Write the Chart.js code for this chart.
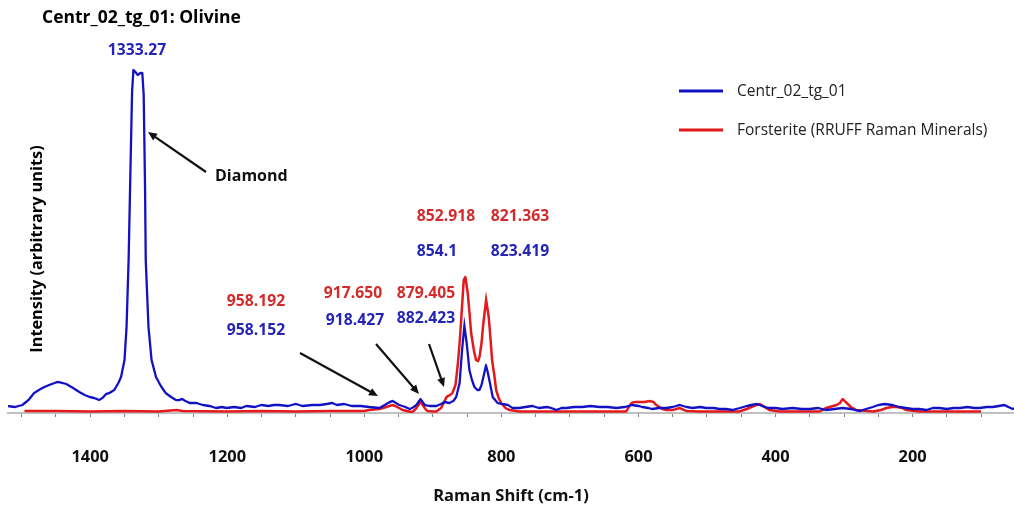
<!DOCTYPE html>
<html>
<head>
<meta charset="utf-8">
<title>Centr_02_tg_01: Olivine</title>
<script src="https://cdn.jsdelivr.net/npm/chart.js@4.4.1/dist/chart.umd.min.js"></script>
<style>
  html, body { margin: 0; padding: 0; background: #fff; }
  #wrap { width: 1014px; height: 510px; position: relative; }
</style>
</head>
<body>
<div id="wrap"><canvas id="spectrum"></canvas></div>
<script>
// Raman shift (cm-1) and intensity (arbitrary units)
const blueShift = [1521, 1510, 1499, 1490, 1482, 1470, 1460, 1448, 1440, 1435, 1425, 1416, 1408, 1401, 1394, 1387, 1382, 1377, 1372, 1365, 1359, 1355, 1350, 1347, 1344, 1342, 1339, 1337, 1334, 1331, 1327, 1324, 1322, 1320, 1319, 1315, 1310.5, 1304, 1297, 1290, 1282, 1275, 1270, 1266, 1261, 1255, 1245, 1236, 1226, 1216, 1208, 1201, 1190, 1180, 1172, 1160, 1150, 1140, 1132, 1124, 1112, 1100, 1090, 1076, 1065, 1055, 1047, 1040, 1030, 1018, 1005, 993, 978, 968, 959, 949, 940, 934, 928, 924, 918, 912, 904, 895, 888, 883, 876, 870, 866, 861, 857.4, 854, 850.7, 846.7, 843, 839.4, 835, 832, 829, 826.3, 822.3, 818.5, 815, 812.7, 808, 805.4, 798.5, 790, 784, 774, 765, 755, 745, 734, 727, 720, 712, 705, 694, 682, 670, 657, 645, 632, 620, 609, 600, 594, 586, 580, 570, 559, 550, 540, 530, 521, 510, 501, 490, 482, 472, 463, 452, 442, 435, 428, 423, 416, 409, 400, 390, 375, 362, 350, 338, 326, 314, 302, 290, 277, 268, 258, 250, 241, 230, 219, 210, 200, 190, 180, 170, 161, 150, 140, 131, 120, 110, 102, 92, 83, 74, 66, 60, 54, 50];
const blueIntensity = [7, 6, 8, 13, 20, 25, 28, 31, 30, 29, 25, 21, 18, 16, 15, 13, 15, 19, 20, 23, 30, 36, 53, 86, 153, 220, 320, 343, 341, 338, 340, 340, 318, 225, 153, 86, 53, 36, 27, 20, 16, 13, 13, 14, 12, 10, 10, 8, 7, 5, 6, 5, 6, 5, 7, 6, 8, 7, 8, 8, 7, 9, 7, 8, 8, 9, 10, 8, 9, 7, 7, 6, 5, 9, 12, 8, 6, 4, 6, 8, 14, 8, 7, 7, 9, 11, 10, 12, 16, 30, 63, 87, 70, 43, 33, 26, 23, 23, 28, 36, 48, 36, 24, 16, 12, 10, 9, 8, 5, 5, 6, 7, 5, 6, 5, 3, 5, 5, 6, 6, 7, 6, 6, 5, 6, 8, 7, 6, 5, 4, 5, 5, 6, 8, 6, 5, 6, 5, 5, 4, 4, 3, 5, 7, 8, 9, 8, 6, 5, 5, 4, 5, 4, 4, 5, 3, 4, 5, 4, 2, 4, 6, 8, 9, 8, 6, 5, 4, 4, 3, 5, 5, 4, 5, 5, 6, 5, 5, 6, 6, 7, 8, 6, 4, 5];

const redShift = [1496, 1450, 1400, 1350, 1300, 1274, 1265, 1200, 1150, 1100, 1050, 1000, 993, 978, 968, 959, 952, 944, 938, 930, 925, 918, 912, 908, 900, 895, 888, 880, 875, 871.5, 867, 864, 861, 858.4, 855, 852.6, 849.2, 846.5, 844.2, 840, 837, 834, 832, 829, 826.3, 822.3, 818.5, 816, 813.6, 810, 807.7, 804, 800.4, 794, 788, 774, 740, 700, 660, 618, 614, 610, 604, 598, 591, 584, 578, 574, 565, 559, 550, 540, 530, 511, 453, 442, 432, 428, 423, 416, 409, 394, 336, 326, 316, 311, 306, 302, 296, 290, 282, 258, 246, 238, 230, 223, 215, 209, 190, 150, 100];
const redIntensity = [2, 2, 1.5, 2, 1.5, 3, 2, 1.5, 2, 1.5, 2, 2, 3, 4, 6, 8, 6, 3, 2, 1, 4, 11, 5, 2, 1.5, 1.5, 5, 16, 18, 20, 28, 46, 70, 96, 133, 136, 120, 100, 80, 62, 53, 52, 56, 70, 90, 113, 96, 75, 53, 36, 23, 15, 10, 5, 3, 1.5, 1.5, 1.5, 1.5, 1.5, 6, 10, 11, 11, 11, 12, 11, 8, 4, 3, 3, 5, 2, 1.5, 1.5, 4, 7, 8, 9, 6, 3, 1.5, 1.5, 5, 7, 8, 10, 14, 10, 6, 3, 1.5, 3, 5, 6, 6, 5, 3, 1.5, 1.5, 1.5];

const xTicksLabelled = [1400, 1200, 1000, 800, 600, 400, 200];

const blueLabels = ['1333.27', '958.152', '918.427', '882.423', '854.1', '823.419'];
const redLabels = ['958.192', '917.650', '879.405', '852.918', '821.363'];

const BLUE = '#1212c4';
const RED = '#e3191c';
const FONT = '"Open Sans", "Noto Sans", sans-serif';

// chart.js wants x ascending for its line drawing, spectra are listed high -> low
function toPoints(xs, ys) {
  return xs.map((x, i) => ({ x: x, y: ys[i] })).sort((a, b) => a.x - b.x);
}

function arrow(ctx, x1, y1, x2, y2) {
  const a = Math.atan2(y2 - y1, x2 - x1);
  const len = 9, half = 4;
  ctx.beginPath();
  ctx.moveTo(x1, y1);
  ctx.lineTo(x2 - Math.cos(a) * len * 0.8, y2 - Math.sin(a) * len * 0.8);
  ctx.stroke();
  ctx.beginPath();
  ctx.moveTo(x2, y2);
  ctx.lineTo(x2 - Math.cos(a) * len + Math.sin(a) * half, y2 - Math.sin(a) * len - Math.cos(a) * half);
  ctx.lineTo(x2 - Math.cos(a) * len - Math.sin(a) * half, y2 - Math.sin(a) * len + Math.cos(a) * half);
  ctx.closePath();
  ctx.fill();
}

// title, rotated y title, legend, peak labels and arrows
const notes = {
  id: 'notes',
  afterDraw(chart) {
    const ctx = chart.ctx;
    ctx.save();
    ctx.textBaseline = 'middle';

    ctx.fillStyle = '#000';
    ctx.textAlign = 'left';
    ctx.font = 'bold 17.5px ' + FONT;
    ctx.fillText('Centr_02_tg_01: Olivine', 42, 18);

    ctx.save();
    ctx.translate(37, 249);
    ctx.rotate(-Math.PI / 2);
    ctx.textAlign = 'center';
    ctx.font = 'bold 16.3px ' + FONT;
    ctx.fillText('Intensity (arbitrary units)', 0, 0);
    ctx.restore();

    // legend
    ctx.font = '15.5px ' + FONT;
    chart.data.datasets.slice().reverse().forEach((ds, i) => {
      const y = 91 + i * 39;
      ctx.strokeStyle = ds.borderColor;
      ctx.lineWidth = 3;
      ctx.beginPath();
      ctx.moveTo(679, y);
      ctx.lineTo(723, y);
      ctx.stroke();
      ctx.fillStyle = '#222';
      ctx.fillText(ds.label, 737, y + 1);
    });

    // peak labels
    const bluePos = [[137, 51], [256, 331], [355, 321], [426, 319], [437, 252], [520, 252]];
    const redPos = [[256, 302], [353, 294], [426, 294], [446, 217], [520, 217]];
    ctx.textAlign = 'center';
    ctx.font = 'bold 15.7px ' + FONT;
    ctx.fillStyle = '#2424b8';
    blueLabels.forEach((t, i) => ctx.fillText(t, bluePos[i][0], bluePos[i][1]));
    ctx.fillStyle = '#d42a2a';
    redLabels.forEach((t, i) => ctx.fillText(t, redPos[i][0], redPos[i][1]));

    ctx.fillStyle = '#111';
    ctx.font = 'bold 16px ' + FONT;
    ctx.textAlign = 'left';
    ctx.fillText('Diamond', 215, 176);

    ctx.strokeStyle = '#111';
    ctx.lineWidth = 2.2;
    arrow(ctx, 206, 172, 148, 132);
    arrow(ctx, 300, 353, 378, 396);
    arrow(ctx, 376, 344, 419, 394);
    arrow(ctx, 429, 344, 444, 387);
    ctx.restore();
  }
};

new Chart(document.getElementById('spectrum'), {
  type: 'line',
  data: {
    datasets: [
      {
        label: 'Forsterite (RRUFF Raman Minerals)',
        data: toPoints(redShift, redIntensity),
        borderColor: RED,
        borderWidth: 2.5,
        pointRadius: 0,
        tension: 0.01, // a tiny tension avoids chart.js's fast path, which draws odd hairlines on the steep peaks
        order: 2,
      },
      {
        label: 'Centr_02_tg_01',
        data: toPoints(blueShift, blueIntensity),
        borderColor: BLUE,
        borderWidth: 2.3,
        pointRadius: 0,
        tension: 0.01,
        order: 1,
      },
    ],
  },
  options: {
    responsive: true,
    maintainAspectRatio: false,
    animation: false,
    layout: { padding: { left: 8, right: 0, top: 40, bottom: 0 } },
    plugins: {
      legend: { display: false },
      tooltip: { enabled: false },
    },
    scales: {
      x: {
        type: 'linear',
        reverse: true,
        min: 52,
        max: 1520,
        border: { display: true, color: '#c0c0c0', width: 2 },
        grid: { drawOnChartArea: false, drawTicks: true, tickLength: 4, color: '#7f7f7f' },
        ticks: {
          stepSize: 50,
          includeBounds: false,
          autoSkip: false,
          maxRotation: 0,
          padding: 30,
          color: '#111',
          font: { family: FONT, size: 16.4, weight: 'bold' },
          callback: (v) => (xTicksLabelled.includes(v) ? v : ''),
        },
        title: {
          display: true,
          text: 'Raman Shift (cm-1)',
          color: '#111',
          font: { family: FONT, size: 16.5, weight: 'bold' },
          padding: { top: 0, bottom: 4 },
        },
        afterFit: (scale) => {
          scale.height = 97;
          scale.paddingLeft = 0;
          scale.paddingRight = 0;
        },
      },
      y: {
        display: false,
        min: 0,
        max: 373,
      },
    },
  },
  plugins: [notes],
});
</script>
</body>
</html>
